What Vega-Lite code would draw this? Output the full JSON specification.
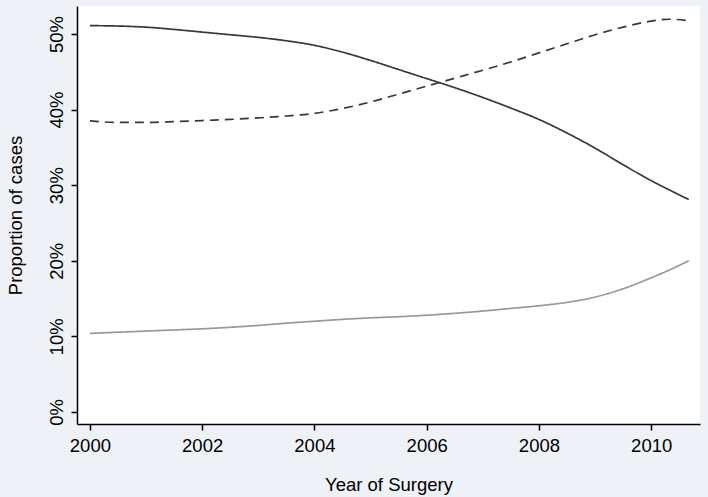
{
  "$schema": "https://vega.github.io/schema/vega-lite/v6.json",
  "width": 623,
  "height": 418,
  "autosize": {"type": "none"},
  "padding": {"left": 77, "top": 6, "right": 8, "bottom": 73},
  "background": "#EEF1F6",
  "config": {
    "view": {"stroke": null, "fill": "white"},
    "font": "Liberation Sans"
  },
  "data": {
    "values": [
      {"year": 2000, "series": "A", "pct": 51.1},
      {"year": 2000.5, "series": "A", "pct": 51.05},
      {"year": 2001, "series": "A", "pct": 50.9},
      {"year": 2001.5, "series": "A", "pct": 50.6},
      {"year": 2002, "series": "A", "pct": 50.25},
      {"year": 2002.5, "series": "A", "pct": 49.9},
      {"year": 2003, "series": "A", "pct": 49.55},
      {"year": 2003.5, "series": "A", "pct": 49.1},
      {"year": 2004, "series": "A", "pct": 48.5},
      {"year": 2004.5, "series": "A", "pct": 47.6},
      {"year": 2005, "series": "A", "pct": 46.5},
      {"year": 2005.5, "series": "A", "pct": 45.3},
      {"year": 2006, "series": "A", "pct": 44.1},
      {"year": 2006.5, "series": "A", "pct": 42.9},
      {"year": 2007, "series": "A", "pct": 41.6},
      {"year": 2007.5, "series": "A", "pct": 40.2},
      {"year": 2008, "series": "A", "pct": 38.7},
      {"year": 2008.5, "series": "A", "pct": 36.9},
      {"year": 2009, "series": "A", "pct": 34.9},
      {"year": 2009.5, "series": "A", "pct": 32.7},
      {"year": 2010, "series": "A", "pct": 30.6},
      {"year": 2010.33, "series": "A", "pct": 29.35},
      {"year": 2010.67, "series": "A", "pct": 28.1},
      {"year": 2000, "series": "B", "pct": 38.5},
      {"year": 2000.5, "series": "B", "pct": 38.3},
      {"year": 2001, "series": "B", "pct": 38.3},
      {"year": 2001.5, "series": "B", "pct": 38.4},
      {"year": 2002, "series": "B", "pct": 38.55},
      {"year": 2002.5, "series": "B", "pct": 38.7},
      {"year": 2003, "series": "B", "pct": 38.9},
      {"year": 2003.5, "series": "B", "pct": 39.15},
      {"year": 2004, "series": "B", "pct": 39.5},
      {"year": 2004.5, "series": "B", "pct": 40.15},
      {"year": 2005, "series": "B", "pct": 41.0},
      {"year": 2005.5, "series": "B", "pct": 42.05},
      {"year": 2006, "series": "B", "pct": 43.1},
      {"year": 2006.5, "series": "B", "pct": 44.15},
      {"year": 2007, "series": "B", "pct": 45.2},
      {"year": 2007.5, "series": "B", "pct": 46.3},
      {"year": 2008, "series": "B", "pct": 47.5},
      {"year": 2008.5, "series": "B", "pct": 48.7},
      {"year": 2009, "series": "B", "pct": 49.9},
      {"year": 2009.5, "series": "B", "pct": 50.9},
      {"year": 2010, "series": "B", "pct": 51.7},
      {"year": 2010.33, "series": "B", "pct": 51.95},
      {"year": 2010.67, "series": "B", "pct": 51.75},
      {"year": 2000, "series": "C", "pct": 10.4},
      {"year": 2000.5, "series": "C", "pct": 10.55},
      {"year": 2001, "series": "C", "pct": 10.7},
      {"year": 2001.5, "series": "C", "pct": 10.85},
      {"year": 2002, "series": "C", "pct": 11.0},
      {"year": 2002.5, "series": "C", "pct": 11.2},
      {"year": 2003, "series": "C", "pct": 11.45},
      {"year": 2003.5, "series": "C", "pct": 11.75},
      {"year": 2004, "series": "C", "pct": 12.0},
      {"year": 2004.5, "series": "C", "pct": 12.25},
      {"year": 2005, "series": "C", "pct": 12.45},
      {"year": 2005.5, "series": "C", "pct": 12.6},
      {"year": 2006, "series": "C", "pct": 12.8},
      {"year": 2006.5, "series": "C", "pct": 13.05},
      {"year": 2007, "series": "C", "pct": 13.35},
      {"year": 2007.5, "series": "C", "pct": 13.7},
      {"year": 2008, "series": "C", "pct": 14.05},
      {"year": 2008.5, "series": "C", "pct": 14.5},
      {"year": 2009, "series": "C", "pct": 15.2},
      {"year": 2009.5, "series": "C", "pct": 16.3},
      {"year": 2010, "series": "C", "pct": 17.75},
      {"year": 2010.33, "series": "C", "pct": 18.8},
      {"year": 2010.67, "series": "C", "pct": 20.0}
    ]
  },
  "mark": {"type": "line", "strokeWidth": 1.7, "interpolate": "monotone"},
  "encoding": {
    "x": {
      "field": "year",
      "type": "quantitative",
      "scale": {"domain": [1999.77, 2010.87], "nice": false, "zero": false},
      "axis": {
        "title": "Year of Surgery",
        "values": [2000, 2002, 2004, 2006, 2008, 2010],
        "format": "d",
        "grid": false,
        "domainColor": "black",
        "domainWidth": 1.5,
        "tickColor": "black",
        "tickSize": 6,
        "tickWidth": 1.5,
        "labelFont": "Liberation Sans",
        "labelFontSize": 18.5,
        "labelColor": "black",
        "labelPadding": 6,
        "labelBaseline": "top",
        "titleFont": "Liberation Sans",
        "titleFontSize": 18.5,
        "titleFontWeight": "normal",
        "titleColor": "black",
        "titleBaseline": "alphabetic",
        "titleY": 66
      }
    },
    "y": {
      "field": "pct",
      "type": "quantitative",
      "scale": {"domain": [-1.59, 53.7], "nice": false, "zero": false},
      "axis": {
        "title": "Proportion of cases",
        "values": [0, 10, 20, 30, 40, 50],
        "labelExpr": "datum.value + '%'",
        "grid": false,
        "domainColor": "black",
        "domainWidth": 1.5,
        "tickColor": "black",
        "tickSize": 6,
        "tickWidth": 1.5,
        "labelAngle": -90,
        "labelAlign": "center",
        "labelBaseline": "alphabetic",
        "labelPadding": 9,
        "labelFont": "Liberation Sans",
        "labelFontSize": 18.5,
        "labelColor": "black",
        "titleFont": "Liberation Sans",
        "titleFontSize": 18.5,
        "titleFontWeight": "normal",
        "titleColor": "black",
        "titleAngle": -90,
        "titleAlign": "center",
        "titleBaseline": "alphabetic",
        "titleX": -56,
        "titleY": 209
      }
    },
    "color": {
      "field": "series",
      "type": "nominal",
      "scale": {"domain": ["A", "B", "C"], "range": ["#383838", "#383838", "#999999"]},
      "legend": null
    },
    "strokeDash": {
      "field": "series",
      "type": "nominal",
      "scale": {"domain": ["A", "B", "C"], "range": [[1, 0], [9, 6], [1, 0]]},
      "legend": null
    }
  }
}
